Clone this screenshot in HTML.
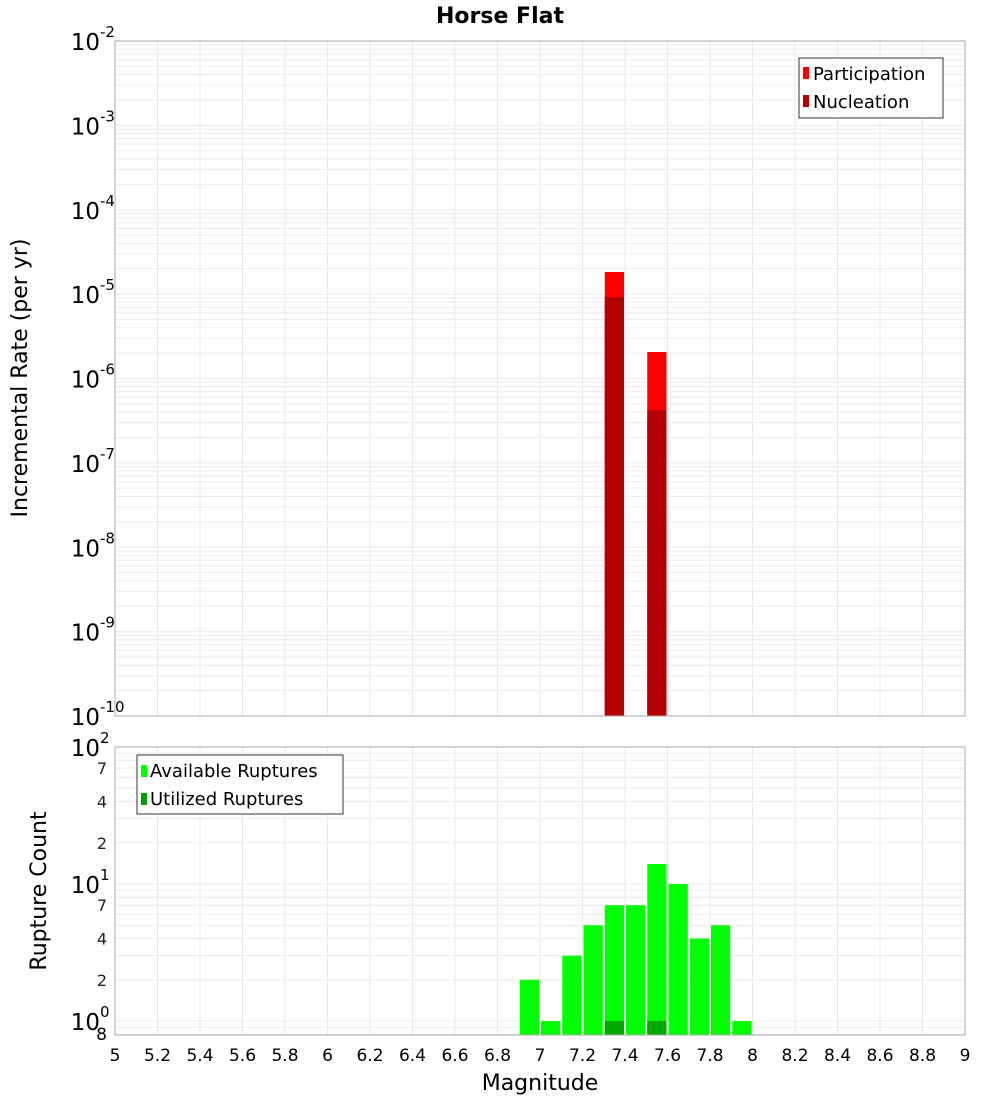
<!DOCTYPE html>
<html><head><meta charset="utf-8"><style>
body{margin:0;background:#fff;}
svg text{font-family:"DejaVu Sans","Liberation Sans",sans-serif;}
</style></head><body>
<svg id="chart" width="1000" height="1100" xmlns="http://www.w3.org/2000/svg">
<rect width="1000" height="1100" fill="#fff"/>
<text x="500" y="23" font-size="22" font-weight="bold" text-anchor="middle">Horse Flat</text>
<g id="top-grid"></g><g id="bot-grid"></g>
<g id="top-bars"></g><g id="bot-bars"></g>
<rect x="115" y="41" width="850" height="675" fill="none" stroke="#aaa"/>
<rect x="115" y="747" width="850" height="288" fill="none" stroke="#aaa"/>
<g id="top-yticks"></g><g id="bot-yticks"></g><g id="xticks"></g>
<text transform="translate(27,378) rotate(-90)" font-size="22" text-anchor="middle">Incremental Rate (per yr)</text>
<text transform="translate(46,891) rotate(-90)" font-size="22" text-anchor="middle">Rupture Count</text>
<text x="540" y="1090" font-size="22" text-anchor="middle">Magnitude</text>
<g>
<rect x="799" y="58" width="144" height="60" fill="#fff" stroke="#333"/>
<rect x="803" y="67" width="6" height="12" fill="#ff0000"/>
<text x="813" y="80" font-size="18">Participation</text>
<rect x="803" y="95" width="6" height="12" fill="#b30000"/>
<text x="813" y="108" font-size="18">Nucleation</text>
</g>
<g>
<rect x="137" y="755" width="206" height="59" fill="#fff" stroke="#333"/>
<rect x="141" y="765" width="6" height="12" fill="#00ff00"/>
<text x="150" y="777" font-size="18">Available Ruptures</text>
<rect x="141" y="793" width="6" height="12" fill="#00a000"/>
<text x="150" y="805" font-size="18">Utilized Ruptures</text>
</g>
</svg>
<script>
const topMags=[7.35,7.55];
const participation=[1.83e-5,2.06e-6];
const nucleation=[9.2e-6,4.2e-7];
const botMags=[6.95,7.05,7.15,7.25,7.35,7.45,7.55,7.65,7.75,7.85,7.95];
const available=[2,1,3,5,7,7,14,10,4,5,1];
const utilized=[0,0,0,0,1,0,1,0,0,0,0];
const xTicks=["5","5.2","5.4","5.6","5.8","6","6.2","6.4","6.6","6.8","7","7.2","7.4","7.6","7.8","8","8.2","8.4","8.6","8.8","9"];
const topExps=[-2,-3,-4,-5,-6,-7,-8,-9,-10];
const botMinor=[2,4,7];
const NS="http://www.w3.org/2000/svg";
function el(t,a,p){const e=document.createElementNS(NS,t);for(const k in a)e.setAttribute(k,a[k]);document.getElementById(p).appendChild(e);return e;}
const X=m=>115+(m-5)*212.5;
const YT=v=>41+(-2-Math.log10(v))*84.375;
const YB=v=>1021-Math.log10(v)*137;
// grids
for(const t of xTicks){const x=X(+t);
 let g=el('line',{x1:x,x2:x,y1:41,y2:716,stroke:'#e8e8e8'},'top-grid');
 g=el('line',{x1:x,x2:x,y1:747,y2:1035,stroke:'#e8e8e8'},'bot-grid');
 const tx=el('text',{x:x,y:1061,'font-size':17,'text-anchor':'middle'},'xticks');tx.textContent=t;
 }
for(let e=-10;e<-2;e++)for(let k=1;k<=9;k++){const y=YT(k*Math.pow(10,e));
 const g=el('line',{x1:115,x2:965,y1:y,y2:y,stroke:'#ebebeb'},'top-grid');}
for(let e=-1;e<2;e++)for(let k=1;k<=9;k++){const y=YB(k*Math.pow(10,e));if(y<747||y>1035)continue;
 const g=el('line',{x1:115,x2:965,y1:y,y2:y,stroke:'#ebebeb'},'bot-grid');}
// top y ticks
for(const e of topExps){const y=YT(Math.pow(10,e));
 const t=el('text',{x:100,y:y+9,'font-size':23,'text-anchor':'end'},'top-yticks');t.textContent='10';
 
 const s=el('text',{x:100,y:y-4,'font-size':15},'top-yticks');s.textContent=String(e);
 }
for(const e of [0,1,2]){const y=YB(Math.pow(10,e));
 const t=el('text',{x:100,y:y+9,'font-size':23,'text-anchor':'end'},'bot-yticks');t.textContent='10';
 
 const s=el('text',{x:100,y:y-4,'font-size':15},'bot-yticks');s.textContent=String(e);
 }
for(let e=0;e<2;e++)for(const k of botMinor){const y=YB(k*Math.pow(10,e));
 const t=el('text',{x:107,y:y+6,'font-size':16,'text-anchor':'end',fill:'#222'},'bot-yticks');t.textContent=String(k);
 }
{const t=el('text',{x:107,y:1040,'font-size':17,'text-anchor':'end'},'bot-yticks');t.textContent='8';
 }
// top bars
topMags.forEach((m,i)=>{const x0=X(m-0.05)+1,x1=X(m+0.05)-1;
 let r=el('rect',{x:x0,width:x1-x0,y:YT(participation[i]),height:716-YT(participation[i]),fill:'#ff0000'},'top-bars');
 
 r=el('rect',{x:x0,width:x1-x0,y:YT(nucleation[i]),height:716-YT(nucleation[i]),fill:'#b30000'},'top-bars');
 });
botMags.forEach((m,i)=>{const x0=X(m-0.05)+1,x1=X(m+0.05)-1;
 let r=el('rect',{x:x0,width:x1-x0,y:YB(available[i]),height:1035-YB(available[i]),fill:'#00ff00'},'bot-bars');
 
 if(utilized[i]>0){r=el('rect',{x:x0,width:x1-x0,y:YB(utilized[i]),height:1035-YB(utilized[i]),fill:'#00a800'},'bot-bars');
 }});
</script>
</body></html>
